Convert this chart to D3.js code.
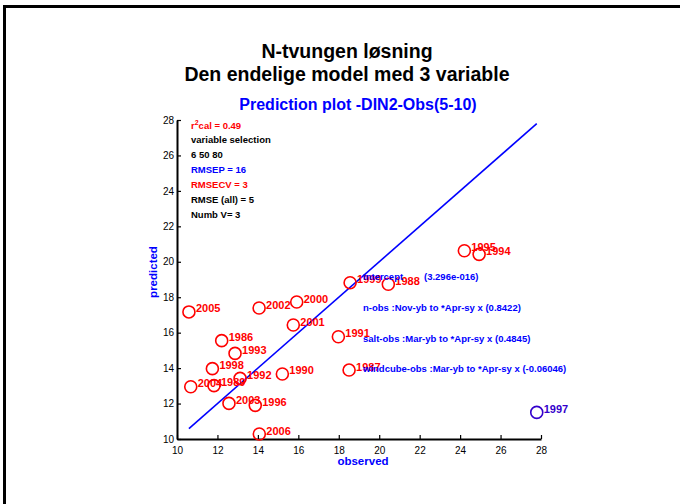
<!DOCTYPE html>
<html><head><meta charset="utf-8">
<script src="https://cdn.jsdelivr.net/npm/d3@7"></script>
<style>body{margin:0;background:#fff;} svg{display:block;font-family:"Liberation Sans",Arial,sans-serif;}</style>
</head><body>
<svg id="c" width="680" height="504"></svg>
<script>
const years = ["2005","2002","2000","2001","1986","1991","1999","1993","1998","2004","1989","1992","1990","2003","1996","2006","1995","1994","1988","1987","1997"];
const observed = [10.59,14.06,15.92,15.75,12.21,17.98,18.56,12.87,11.75,10.68,11.83,13.12,15.21,12.57,13.87,14.07,24.21,24.94,20.45,18.51,27.79];
const predicted = [17.17,17.39,17.73,16.43,15.55,15.77,18.82,14.83,13.97,12.95,13.01,13.42,13.67,12.01,11.90,10.28,20.62,20.42,18.73,13.89,11.50];
const outlier = ["1997"];
const xTicks = [10,12,14,16,18,20,22,24,26,28];
const yTicks = [10,12,14,16,18,20,22,24,26,28];
const infoLines = [
  {t:"r", sup:"2", rest:"cal = 0.49", c:"#ff0000"},
  {t:"variable selection", c:"#000"},
  {t:"6 50 80", c:"#000"},
  {t:"RMSEP = 16", c:"#0000ff"},
  {t:"RMSECV = 3", c:"#ff0000"},
  {t:"RMSE (all) = 5", c:"#000"},
  {t:"Numb V= 3", c:"#000"}
];
const coefNames = ["Intercept","n-obs :Nov-yb to *Apr-sy x","salt-obs :Mar-yb to *Apr-sy x","windcube-obs :Mar-yb to *Apr-sy x"];
const coefValues = ["(3.296e-016)","(0.8422)","(0.4845)","(-0.06046)"];

const svg = d3.select("#c");
svg.append("rect").attr("x",4.5).attr("y",6.5).attr("width",720).attr("height",520)
  .attr("fill","none").attr("stroke","#000").attr("stroke-width",3);

const x = d3.scaleLinear().domain([10,28]).range([177,541]);
const y = d3.scaleLinear().domain([10,28]).range([439,120]);

svg.append("text").attr("x",347).attr("y",58).attr("text-anchor","middle")
  .attr("font-size",19.5).attr("font-weight","bold").text("N-tvungen løsning");
svg.append("text").attr("x",347).attr("y",81).attr("text-anchor","middle")
  .attr("font-size",19.5).attr("font-weight","bold").text("Den endelige model med 3 variable");
svg.append("text").attr("x",358).attr("y",110).attr("text-anchor","middle")
  .attr("font-size",16).attr("font-weight","bold").attr("fill","#0000ff").text("Prediction plot -DIN2-Obs(5-10)");

// axes
const xa = svg.append("g").attr("transform","translate(0,439)")
  .call(d3.axisBottom(x).tickValues(xTicks).tickSizeInner(-4).tickSizeOuter(0).tickFormat(d3.format("d")));
xa.select(".domain").attr("stroke-width",2);
xa.selectAll(".tick line").attr("stroke-width",1.2);
xa.selectAll(".tick text").attr("y",8).attr("dy","0.71em").attr("font-size",10).attr("font-family","Liberation Sans, Arial");
const ya = svg.append("g").attr("transform","translate(177,0)")
  .call(d3.axisLeft(y).tickValues(yTicks).tickSizeInner(-4).tickSizeOuter(0).tickFormat(d3.format("d")));
ya.select(".domain").attr("stroke-width",2);
ya.selectAll(".tick line").attr("stroke-width",1.2);
ya.selectAll(".tick text").attr("x",-3).attr("font-size",10).attr("font-family","Liberation Sans, Arial");

svg.append("text").attr("x",363).attr("y",465).attr("text-anchor","middle")
  .attr("font-size",11.5).attr("font-weight","bold").attr("fill","#0000ff").text("observed");
svg.append("text").attr("transform","translate(157,272) rotate(-90)").attr("text-anchor","middle")
  .attr("font-size",11.5).attr("font-weight","bold").attr("fill","#0000ff").text("predicted");

// 1:1 line
const ext = d3.extent(observed);
svg.append("line").attr("x1",x(ext[0])).attr("y1",y(ext[0])).attr("x2",x(ext[1])).attr("y2",y(ext[1]))
  .attr("stroke","#0000ff").attr("stroke-width",1.6);

// info lines
infoLines.forEach((d,i)=>{
  const t = svg.append("text").attr("x",191).attr("y",128.5+i*14.9).attr("font-size",9.5)
    .attr("font-weight","bold").attr("fill",d.c);
  t.append("tspan").text(d.t);
  if(d.sup){
    t.append("tspan").attr("dy",-4).attr("font-size",7).text(d.sup);
    t.append("tspan").attr("dy",4).text(d.rest);
  }
});

// points
const pts = years.map((yr,i)=>({yr, o:observed[i], p:predicted[i]}));
const g = svg.append("g");
pts.forEach(d=>{
  const col = outlier.includes(d.yr) ? "#3300cc" : "#ff0000";
  g.append("circle").attr("cx",x(d.o)).attr("cy",y(d.p)).attr("r",6)
    .attr("fill","none").attr("stroke",col).attr("stroke-width",1.6);
  g.append("text").attr("x",x(d.o)+7).attr("y",y(d.p)+0.5).attr("font-size",11)
    .attr("font-weight","bold").attr("fill",col).text(d.yr);
});

// coefficient texts
coefNames.forEach((n,i)=>{
  const yy = 280 + i*30.8;
  if(i===0){
    svg.append("text").attr("x",363).attr("y",yy).attr("font-size",9.5).attr("font-weight","bold").attr("fill","#0000ff").text(n);
    svg.append("text").attr("x",424).attr("y",yy).attr("font-size",9.5).attr("font-weight","bold").attr("fill","#0000ff").text(coefValues[i]);
  } else {
    svg.append("text").attr("x",363).attr("y",yy).attr("font-size",9.5).attr("font-weight","bold").attr("fill","#0000ff").text(n+" "+coefValues[i]);
  }
});
</script>
</body></html>
